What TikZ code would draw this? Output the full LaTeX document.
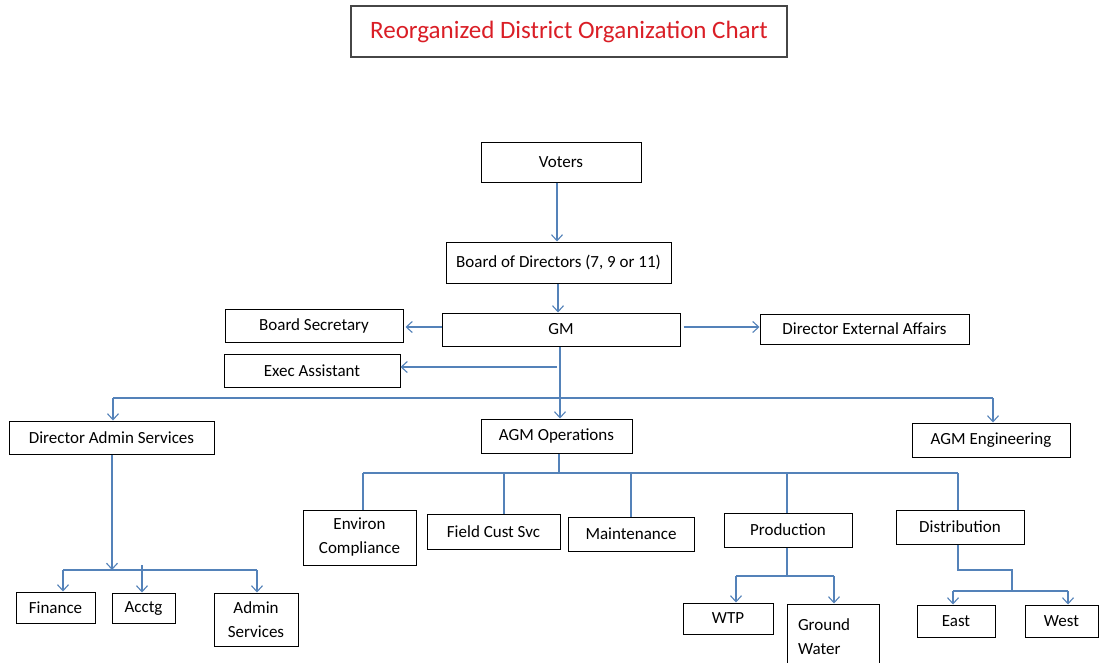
\documentclass[tikz,border=0pt]{standalone}
\usepackage{fontspec}
\setmainfont{Carlito}
\usetikzlibrary{arrows.meta,calc}
\definecolor{conn}{RGB}{84,130,185}
\definecolor{ttl}{RGB}{218,30,38}
\definecolor{ttlborder}{RGB}{70,70,70}
\begin{document}
\begin{tikzpicture}[x=1pt,y=-1pt,
  box/.style={draw=black,line width=1pt,inner sep=0pt,align=center,
    font=\fontsize{17}{24}\selectfont},
  conline/.style={draw=conn,line width=1.2pt},
  arr/.style={conline,-{Straight Barb[length=6pt,width=11pt,line width=1.1pt]}}]
\clip (0,0) rectangle (1103,662);
\fill[white] (0,0) rectangle (1103,662);

% title
\node[draw=ttlborder,line width=1.5pt,inner sep=0pt,minimum width=436pt,minimum height=51pt,
  text=ttl,font=\fontsize{25}{30}\selectfont] (title) at (569,31.5) {Reorganized District Organization Chart};

% boxes
\node[box,minimum width=160pt,minimum height=40pt] (voters) at (561,162) {Voters};
\node[box,minimum width=225pt,minimum height=41pt] (board) at (558.5,262.5) {Board of Directors (7, 9 or 11)};
\node[box,minimum width=238pt,minimum height=33pt] (gm) at (561,329.5) {GM};
\node[box,minimum width=178pt,minimum height=33pt] (bsec) at (314,325.5) {Board Secretary};
\node[box,minimum width=209pt,minimum height=30pt] (dea) at (864.5,329) {Director External Affairs};
\node[box,minimum width=176pt,minimum height=33pt] (exec) at (312,370.5) {Exec Assistant};
\node[box,minimum width=205pt,minimum height=33pt] (das) at (111.5,437.5) {Director Admin Services};
\node[box,minimum width=151pt,minimum height=34pt] (agmops) at (556.5,436) {AGM Operations};
\node[box,minimum width=158pt,minimum height=34pt] (agmeng) at (991,440) {AGM Engineering};
\node[box,minimum width=113pt,minimum height=55pt] (environ) at (359.5,537.5) {Environ\\Compliance};
\node[box,minimum width=133pt,minimum height=35pt] (field) at (493.5,531.5) {Field Cust Svc};
\node[box,minimum width=126pt,minimum height=34pt] (maint) at (631,534) {Maintenance};
\node[box,minimum width=128pt,minimum height=34pt] (prod) at (788,530) {Production};
\node[box,minimum width=128pt,minimum height=34pt] (dist) at (960,527) {Distribution};
\node[box,minimum width=79pt,minimum height=31pt] (finance) at (55.5,607.5) {Finance};
\node[box,minimum width=63pt,minimum height=30pt] (acctg) at (143.5,608) {Acctg};
\node[box,minimum width=84pt,minimum height=53pt] (adminsvc) at (256,619.5) {Admin\\Services};
\node[box,minimum width=90pt,minimum height=31pt] (wtp) at (728,618.5) {WTP};
\node[box,minimum width=92pt,minimum height=66pt,text width=70pt,align=left] (gw) at (833,637) {Ground\\Water};
\node[box,minimum width=78pt,minimum height=32pt] (east) at (956,621) {East};
\node[box,minimum width=73pt,minimum height=32pt] (west) at (1061.5,621) {West};

% junction coordinates
\coordinate (busL) at (113,398);
\coordinate (busM) at (560,398);
\coordinate (busR) at (993,398);
\coordinate (exs) at (557,367);
\coordinate (b2) at (112,570);
\coordinate (b2L) at (63,570);
\coordinate (b2R) at (257,570);
\coordinate (b2A) at (142,565);
\coordinate (b3) at (559,473);
\coordinate (b3L) at (363,473);
\coordinate (b3f) at (504,473);
\coordinate (b3m) at (631,473);
\coordinate (b3p) at (787,473);
\coordinate (b3R) at (958,473);
\coordinate (b5) at (787,576);
\coordinate (b5L) at (736,576);
\coordinate (b5R) at (834,576);
\coordinate (b6a) at (958,570);
\coordinate (b6b) at (1012,570);
\coordinate (b6c) at (1012,591);
\coordinate (b6L) at (953,591);
\coordinate (b6R) at (1068,591);

% top chain
\draw[arr] ($(voters.south)+(-4,0)$) -- ($(board.north)+(-1.5,0)$);
\draw[arr] ($(board.south)+(-0.5,0)$) -- ($(gm.north)+(-3,0)$);
\draw[arr] ($(gm.west)+(0,-2.5)$) -- ($(bsec.east)+(2,1.5)$);
\draw[arr,shorten <=3pt] ($(gm.east)+(0,-2.5)$) -- ($(dea.west)+(0,-2)$);
\draw[conline] ($(gm.south)+(-1,0)$) -- (busM);
\draw[arr] (exs) -- (exs -| exec.east);

% main bus
\draw[conline] (busL) -- (busR);
\draw[arr] (busL) -- (busL |- das.north);
\draw[arr] (busM) -- (busM |- agmops.north);
\draw[arr] (busR) -- (busR |- agmeng.north);

% admin services
\draw[arr] (b2 |- das.south) -- (b2);
\draw[conline] (b2L) -- (b2R);
\draw[arr] (b2L) -- (b2L |- finance.north);
\draw[arr] (b2A) -- (b2A |- acctg.north);
\draw[arr] (b2R) -- (b2R |- adminsvc.north);

% operations
\draw[conline] (b3 |- agmops.south) -- (b3);
\draw[conline] (b3L) -- (b3R);
\draw[conline] (b3L) -- (b3L |- environ.north);
\draw[conline] (b3f) -- (b3f |- field.north);
\draw[conline] (b3m) -- (b3m |- maint.north);
\draw[conline] (b3p) -- (b3p |- prod.north);
\draw[conline] (b3R) -- (b3R |- dist.north);

% production
\draw[conline] (b5 |- prod.south) -- (b5);
\draw[conline] (b5L) -- (b5R);
\draw[arr] (b5L) -- (b5L |- wtp.north);
\draw[arr] (b5R) -- (b5R |- gw.north);

% distribution
\draw[conline] (b6a |- dist.south) -- (b6a) -- (b6b) -- (b6c);
\draw[conline] (b6L) -- (b6R);
\draw[arr] (b6L) -- (b6L |- east.north);
\draw[arr] (b6R) -- (b6R |- west.north);
\end{tikzpicture}
\end{document}
